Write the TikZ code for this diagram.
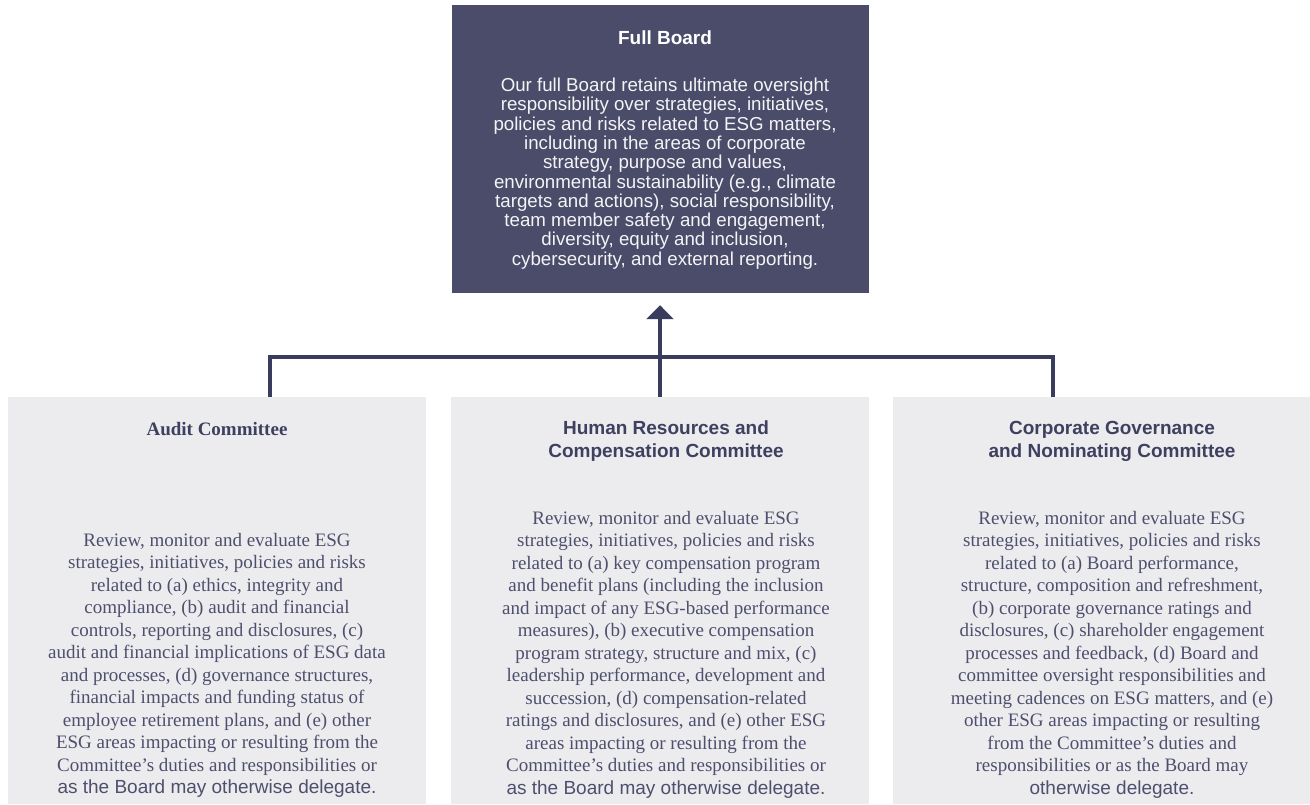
\documentclass[tikz,border=0pt]{standalone}
\usepackage{fontspec}
\setmainfont{Liberation Serif}
\setsansfont{Liberation Sans}
\usepackage{tikz}
\usetikzlibrary{positioning, arrows.meta}
\definecolor{navy}{HTML}{4A4C6A}
\definecolor{paleg}{HTML}{ECECEF}
\definecolor{ink}{HTML}{3E4060}
\definecolor{wirec}{HTML}{3A3C5E}
\tikzset{% 
	>={Triangle[width=27pt,length=14pt]},
	board/.style = {name = #1, rectangle, fill = navy, inner sep = 0pt, minimum width = 417pt, minimum height = 288pt},
	cmte/.style = {name = #1, rectangle, fill = paleg, inner sep = 0pt, minimum width = 418pt, minimum height = 407pt},
	head/.style = {name = #1, inner sep = 0pt, align = center, text = ink, font = \bfseries\fontsize{19}{23}\selectfont},
	body/.style = {name = #1, inner sep = 0pt, align = center, text = ink!92, font = \fontsize{19}{22.5}\selectfont},
	wire/.style = {line width = 4pt, draw = wirec, line join = miter}
}
\begin{document}
\begin{tikzpicture}[x=1pt,y=-1pt]
			\useasboundingbox (0,0) rectangle (1310,804);
			\node [board = {fb}] at (660.5,149) {};
			\node [cmte = {audit}] at (216.5,600.5) {};
			\node [cmte = {hr}] at (660,600.5) {};
			\node [cmte = {gov}] at (1101.5,600.5) {};
			\node [head = {fbhead}, text = white, font = \sffamily\bfseries\fontsize{19}{23}\selectfont] at (665,38) {Full Board};
			\node [body = {fbtext}, text = white!94!navy, font = \sffamily\fontsize{18.7}{19.33}\selectfont] at (665,173.5) {Our full Board retains ultimate oversight\\
				responsibility over strategies, initiatives,\\
				policies and risks related to ESG matters,\\
				including in the areas of corporate\\
				strategy, purpose and values,\\
				environmental sustainability (e.g., climate\\
				targets and actions), social responsibility,\\
				team member safety and engagement,\\
				diversity, equity and inclusion,\\
				cybersecurity, and external reporting.};
			\node [head = {audithead}] at (217,429) {Audit Committee};
			\node [head = {hrhead}, font = \sffamily\bfseries\fontsize{19}{23}\selectfont] at (666,441) {Human Resources and\\Compensation Committee};
			\node [head = {govhead}, font = \sffamily\bfseries\fontsize{19}{23}\selectfont] at (1112,441) {Corporate Governance\\and Nominating Committee};
			\node [body = {audittext}] at (217,665.5) {Review, monitor and evaluate ESG\\
				strategies, initiatives, policies and risks\\
				related to (a) ethics, integrity and\\
				compliance, (b) audit and financial\\
				controls, reporting and disclosures, (c)\\
				audit and financial implications of ESG data\\
				and processes, (d) governance structures,\\
				financial impacts and funding status of\\
				employee retirement plans, and (e) other\\
				ESG areas impacting or resulting from the\\
				Committee’s duties and responsibilities or\\
				{\sffamily as the Board may otherwise delegate.}};
			\node [body = {hrtext}] at (666,654.5) {Review, monitor and evaluate ESG\\
				strategies, initiatives, policies and risks\\
				related to (a) key compensation program\\
				and benefit plans (including the inclusion\\
				and impact of any ESG-based performance\\
				measures), (b) executive compensation\\
				program strategy, structure and mix, (c)\\
				leadership performance, development and\\
				succession, (d) compensation-related\\
				ratings and disclosures, and (e) other ESG\\
				areas impacting or resulting from the\\
				Committee’s duties and responsibilities or\\
				{\sffamily as the Board may otherwise delegate.}};
			\node [body = {govtext}] at (1112,654.5) {Review, monitor and evaluate ESG\\
				strategies, initiatives, policies and risks\\
				related to (a) Board performance,\\
				structure, composition and refreshment,\\
				(b) corporate governance ratings and\\
				disclosures, (c) shareholder engagement\\
				processes and feedback, (d) Board and\\
				committee oversight responsibilities and\\
				meeting cadences on ESG matters, and (e)\\
				other ESG areas impacting or resulting\\
				from the Committee’s duties and\\
				responsibilities or as the Board may\\
				{\sffamily otherwise delegate.}};
			\coordinate (jl) at (270,357);
			\coordinate (jr) at (1053,357);
			\coordinate (tip) at ([yshift=-12pt]fb.south);
			\draw [wire] (audit.north -| jl) -- (jl) -- (jr) -- (gov.north -| jr);
			\draw [wire, ->] (hr.north) -- (hr.north |- tip);
\end{tikzpicture}
\end{document}
